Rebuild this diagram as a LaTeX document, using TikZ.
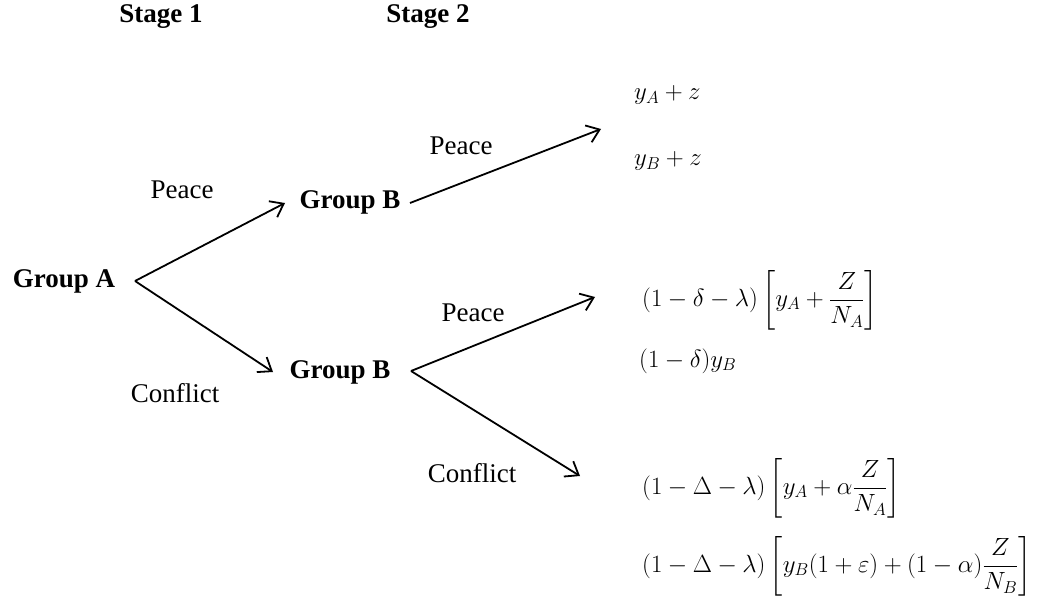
\documentclass[tikz,border=0pt]{standalone}
\usepackage{amsmath}
\usepackage{fontspec}
\setmainfont{Liberation Serif}
\usetikzlibrary{arrows.meta}
\begin{document}
\begin{tikzpicture}[x=1pt,y=-1pt,
  lbl/.style={inner sep=0pt,font=\fontsize{27}{32}\selectfont},
  grp/.style={inner sep=0pt,font=\fontsize{27}{32}\selectfont\bfseries},
  pay/.style={inner sep=0pt,anchor=west,font=\fontsize{25}{30}\selectfont},
  arr/.style={line width=1.8pt,-{Straight Barb[length=12pt,width=18pt,line width=1.8pt]}}]
\useasboundingbox (0,0) rectangle (1039,607);
\node[grp] (s1) at (161,17) {Stage 1};
\node[grp] (s2) at (428,17) {Stage 2};
\node[grp] (ga) at (64,281) {Group A};
\node[grp] (gb1) at (350,202) {Group B};
\node[grp] (gb2) at (340,372) {Group B};
\coordinate (ga0) at (135,281);
\coordinate (gb1w) at (285,203);
\coordinate (gb2w) at (273,372);
\coordinate (gb1e) at (410,203);
\coordinate (gb2e) at (411,371);
\coordinate (t1) at (601,129);
\coordinate (t2) at (595,297);
\coordinate (t3) at (580,476);
\draw[arr] (ga0) -- (gb1w);
\draw[arr] (ga0) -- (gb2w);
\draw[arr] (gb1e) -- (t1);
\draw[arr] (gb2e) -- (t2);
\draw[arr] (gb2e) -- (t3);
\node[lbl] (p1) at (182,190) {Peace};
\node[lbl] (c1) at (175,393) {Conflict};
\node[lbl] (p2) at (461,146) {Peace};
\node[lbl] (p3) at (473,313) {Peace};
\node[lbl] (c2) at (472,473) {Conflict};
\node[pay] (o1) at (634,95) {$y_A+z$};
\node[pay] (o2) at (634,161) {$y_B+z$};
\node[pay] (o3) at (642,300) {$(1-\delta-\lambda)\left[y_A+\dfrac{Z}{N_A}\right]$};
\node[pay] (o4) at (639,361) {$(1-\delta)y_B$};
\node[pay] (o5) at (642,488) {$(1-\Delta-\lambda)\left[y_A+\alpha\dfrac{Z}{N_A}\right]$};
\node[pay] (o6) at (642,566) {$(1-\Delta-\lambda)\left[y_B(1+\varepsilon)+(1-\alpha)\dfrac{Z}{N_B}\right]$};
\end{tikzpicture}
\end{document}
